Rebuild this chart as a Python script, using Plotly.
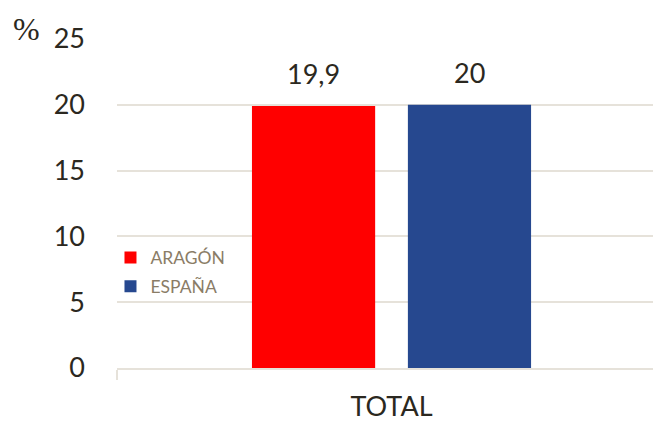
import plotly.graph_objects as go

categories = ["TOTAL"]
series_names = ["ARAGÓN", "ESPAÑA"]
aragon_values = [19.9]
espana_values = [20]
colors = ["#FF0000", "#26488F"]
y_ticks = [0, 5, 10, 15, 20, 25]

FONT = "Lato"
TEXT = "#2B2820"
GRID = "#E6E2DA"

fig = go.Figure()
series = [aragon_values, espana_values]
shifts = [-78, 78]
for name, vals, col in zip(series_names, series, colors):
    fig.add_trace(go.Bar(
        x=categories, y=vals, name=name, marker_color=col,
        marker_line_width=0, legendgroup=name,
    ))

for vals, sh in zip(series, shifts):
    for c, v in zip(categories, vals):
        fig.add_annotation(x=c, y=v, xref="x", yref="y", xshift=sh, yshift=14,
                           text=f"{v}".replace(".", ","), showarrow=False,
                           yanchor="bottom",
                           font=dict(family=FONT, size=27, color=TEXT))

# page body has an 8px margin, so the figure is sized 8px smaller
fig.update_layout(
    width=653, height=414,
    margin=dict(l=109, r=1, t=31, b=54, autoexpand=False),
    paper_bgcolor="white", plot_bgcolor="white",
    barmode="group", bargap=0.432, bargroupgap=0.21,
    separators=",.",
    showlegend=True,
    legend=dict(x=-0.012, y=0.39, xanchor="left", yanchor="top",
                font=dict(family=FONT, size=17.5, color="#8A7C66"),
                bgcolor="rgba(0,0,0,0)", itemwidth=30, tracegroupgap=3),
    font=dict(family=FONT, color=TEXT),
)
fig.update_yaxes(range=[0, 25], tickvals=y_ticks, showgrid=True, gridcolor=GRID,
                 gridwidth=2, zeroline=False, showline=False, automargin=False,
                 tickfont=dict(family=FONT, size=27, color=TEXT), ticklabelstandoff=31)
fig.update_xaxes(range=[-0.5, 0.489], showline=True, linecolor=GRID, linewidth=2,
                 ticks="outside", tickson="boundaries", ticklen=10, tickcolor=GRID,
                 tickwidth=2, automargin=False, ticklabelstandoff=14,
                 tickfont=dict(family=FONT, size=27, color=TEXT))
fig.add_annotation(text="%", xref="paper", yref="paper", x=-0.196, y=1.092,
                   xanchor="left", yanchor="top", showarrow=False,
                   font=dict(family="Liberation Serif", size=32, color=TEXT))
fig.write_html("out.html")
